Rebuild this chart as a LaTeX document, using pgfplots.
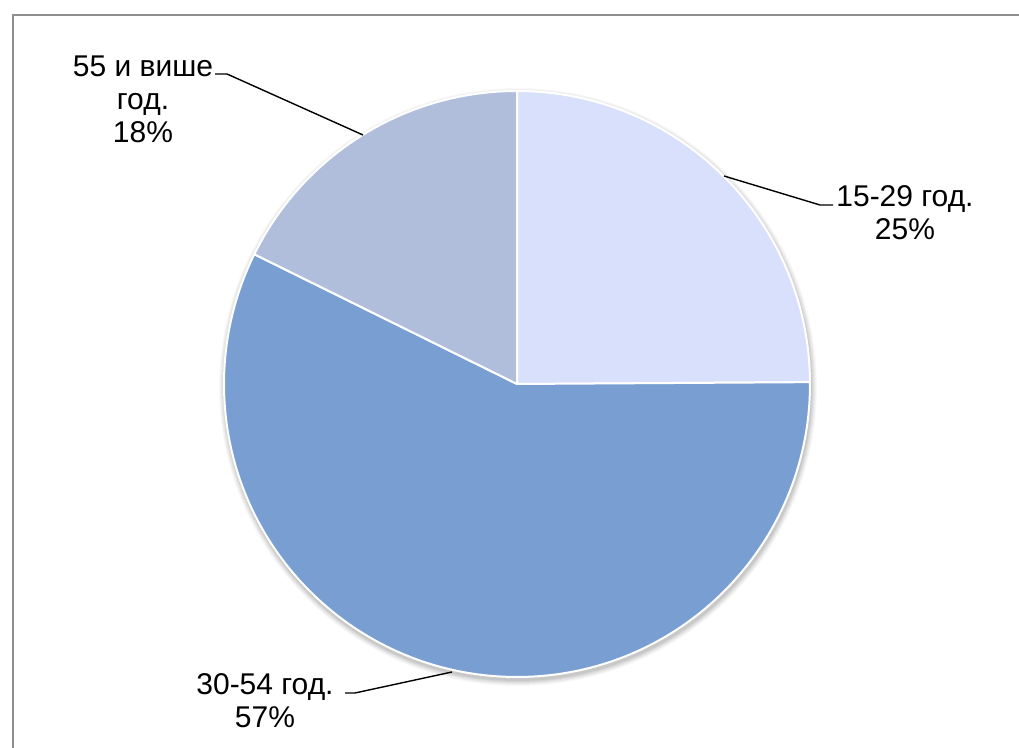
\documentclass[border=0pt]{standalone}
\usepackage{pgfplots}
\pgfplotsset{compat=1.18}
\usepackage{pgfplotstable}
\usepackage{fontspec}
\setmainfont{Liberation Sans}
\definecolor{cA}{HTML}{D8E0FC}
\definecolor{cB}{HTML}{799FD2}
\definecolor{cC}{HTML}{B0BEDC}
\definecolor{frame}{HTML}{8E8E8E}
\pgfplotstableread{
label value
15-29 24.9
30-54 57.4
55+ 17.7
}\piedata
\begin{document}
\begin{tikzpicture}
\pgfplotstablegetelem{0}{value}\of\piedata \pgfmathsetmacro\vA{\pgfplotsretval}
\pgfplotstablegetelem{1}{value}\of\piedata \pgfmathsetmacro\vB{\pgfplotsretval}
\pgfplotstablegetelem{2}{value}\of\piedata \pgfmathsetmacro\vC{\pgfplotsretval}
\pgfmathsetmacro\aS{90}
\pgfmathsetmacro\aA{90-3.6*\vA}
\pgfmathsetmacro\aB{\aA-3.6*\vB}
\pgfmathsetmacro\aC{\aB-3.6*\vC}
\begin{axis}[
  scale only axis, width=509.5pt, height=374pt,
  xmin=0, xmax=1019, ymin=0, ymax=748,
  hide axis, clip=false,
  font=\fontsize{15}{16.5}\selectfont,
]
\coordinate (bl) at (axis cs:0,0);
\coordinate (tr) at (axis cs:1019,748);
% frame
\draw[frame, line width=1pt] (axis cs:12.5,-5) -- (axis cs:12.5,732.5) -- (axis cs:1025,732.5);
% soft shadow
\fill[black, opacity=0.025] (axis cs:518,361) circle[radius=149.5pt];
\fill[black, opacity=0.03] (axis cs:518,361) circle[radius=149pt];
\fill[black, opacity=0.035] (axis cs:518,361) circle[radius=148.5pt];
\fill[black, opacity=0.04] (axis cs:518,361) circle[radius=148pt];
\fill[black, opacity=0.05] (axis cs:518,361) circle[radius=147.5pt];
\fill[black, opacity=0.06] (axis cs:518,361) circle[radius=147pt];
% slices
\filldraw[fill=cA, draw=white, line width=1pt, line join=round] (axis cs:517,364) -- ++(\aS:146.5pt) arc[start angle=\aS, end angle=\aA, radius=146.5pt] -- cycle;
\filldraw[fill=cB, draw=white, line width=1pt, line join=round] (axis cs:517,364) -- ++(\aA:146.5pt) arc[start angle=\aA, end angle=\aB, radius=146.5pt] -- cycle;
\filldraw[fill=cC, draw=white, line width=1pt, line join=round] (axis cs:517,364) -- ++(\aB:146.5pt) arc[start angle=\aB, end angle=\aC, radius=146.5pt] -- cycle;
% leader lines
\addplot[black, line width=0.7pt, mark=none] coordinates {(215,674) (227,674) (363,613)};
\addplot[black, line width=0.7pt, mark=none] coordinates {(724,572) (820,543) (833,543)};
\addplot[black, line width=0.7pt, mark=none] coordinates {(345,55) (355,55) (452,76)};
% labels
\node[align=center, inner sep=0pt] at (axis cs:143,649) {55 и више\\год.\\18\%};
\node[align=center, inner sep=0pt] at (axis cs:905,535) {15-29 год.\\25\%};
\node[align=center, inner sep=0pt] at (axis cs:265,47) {30-54 год.\\57\%};
\end{axis}
\pgfresetboundingbox
\path[use as bounding box] (bl) rectangle (tr);
\end{tikzpicture}
\end{document}
